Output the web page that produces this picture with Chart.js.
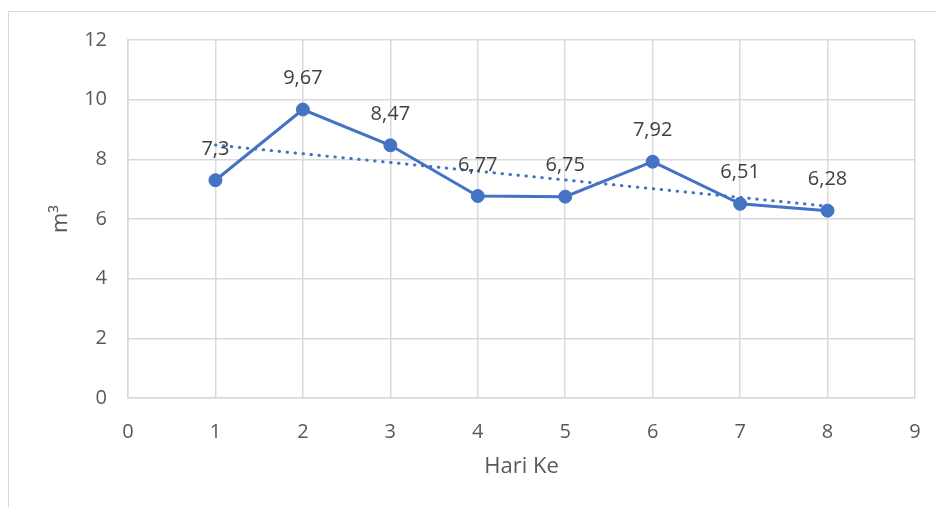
<!DOCTYPE html>
<html>
<head>
<meta charset="utf-8">
<script src="https://cdn.jsdelivr.net/npm/chart.js@4/dist/chart.umd.min.js"></script>
<style>
  html, body { margin: 0; padding: 0; background: #ffffff; }
  #wrap { position: relative; width: 936px; height: 507px; overflow: hidden; }
  #frame { position: absolute; left: 8px; top: 11px; width: 960px; height: 520px; border: 1px solid #d9d9d9; box-sizing: border-box; }
  canvas { position: absolute; left: 0; top: 0; }
</style>
</head>
<body>
<div id="wrap">
  <div id="frame"></div>
  <canvas id="chart" width="936" height="507"></canvas>
</div>
<script>
// Daily volume (m³) per day
const days = [1, 2, 3, 4, 5, 6, 7, 8];
const volumes = [7.3, 9.67, 8.47, 6.77, 6.75, 7.92, 6.51, 6.28];
const volumeLabels = ['7,3', '9,67', '8,47', '6,77', '6,75', '7,92', '6,51', '6,28'];

// Linear trend line end points (day 1 and day 8)
const trendDays = [1, 8];
const trendValues = [8.48, 6.43];

const xTicks = [0, 1, 2, 3, 4, 5, 6, 7, 8, 9];
const yTicks = [0, 2, 4, 6, 8, 10, 12];

const blue = '#4472c4';
const FONT = '"Open Sans", "Noto Sans", sans-serif';

// Value labels above each marker
const valueLabels = {
  id: 'valueLabels',
  afterDatasetsDraw(chart) {
    const meta = chart.getDatasetMeta(1);
    const ctx = chart.ctx;
    ctx.save();
    ctx.font = '20px ' + FONT;
    ctx.fillStyle = '#404040';
    ctx.textAlign = 'center';
    ctx.textBaseline = 'middle';
    meta.data.forEach((pt, i) => {
      ctx.fillText(volumeLabels[i], pt.x, pt.y - 31);
    });
    ctx.restore();
  }
};

new Chart(document.getElementById('chart'), {
  type: 'line',
  data: {
    datasets: [
      {
        label: 'Linear',
        data: trendDays.map((d, i) => ({ x: d, y: trendValues[i] })),
        borderColor: blue,
        borderWidth: 3,
        borderDash: [0.5, 7.5],
        borderCapStyle: 'round',
        pointRadius: 0,
        fill: false
      },
      {
        label: 'Volume',
        data: days.map((d, i) => ({ x: d, y: volumes[i] })),
        borderColor: blue,
        borderWidth: 3,
        pointRadius: 6.5,
        pointBorderWidth: 1,
        pointBackgroundColor: blue,
        pointBorderColor: blue,
        fill: false
      }
    ]
  },
  options: {
    responsive: false,
    animation: false,
    layout: { padding: { left: 0, right: 21, top: 40, bottom: 0 } },
    plugins: {
      legend: { display: false },
      tooltip: { enabled: false }
    },
    scales: {
      x: {
        type: 'linear',
        min: 0,
        max: 9,
        afterFit(scale) {
          scale.height = 109;
          scale.paddingLeft = 0;
          scale.paddingRight = 0;
        },
        afterBuildTicks(scale) { scale.ticks = xTicks.map(v => ({ value: v })); },
        grid: { color: '#d9d9d9', lineWidth: 1.5, drawTicks: false },
        border: { color: '#d9d9d9', width: 1.5 },
        ticks: { color: '#595959', font: { family: FONT, size: 20 }, padding: 22, maxRotation: 0 },
        title: {
          display: true,
          text: 'Hari Ke',
          color: '#595959',
          font: { family: FONT, size: 22 },
          padding: { top: 0, bottom: 27 }
        }
      },
      y: {
        type: 'linear',
        min: 0,
        max: 12,
        afterFit(scale) {
          scale.width = 128;
          scale.paddingTop = 0;
          scale.paddingBottom = 0;
        },
        afterBuildTicks(scale) { scale.ticks = yTicks.map(v => ({ value: v })); },
        grid: { color: '#d9d9d9', lineWidth: 1.5, drawTicks: false },
        border: { color: '#d9d9d9', width: 1.5 },
        ticks: { color: '#595959', font: { family: FONT, size: 20 }, padding: 21 },
        title: {
          display: true,
          text: 'm³',
          color: '#595959',
          font: { family: FONT, size: 22 },
          padding: { top: 48, bottom: 0 }
        }
      }
    }
  },
  plugins: [valueLabels]
});
</script>
</body>
</html>
